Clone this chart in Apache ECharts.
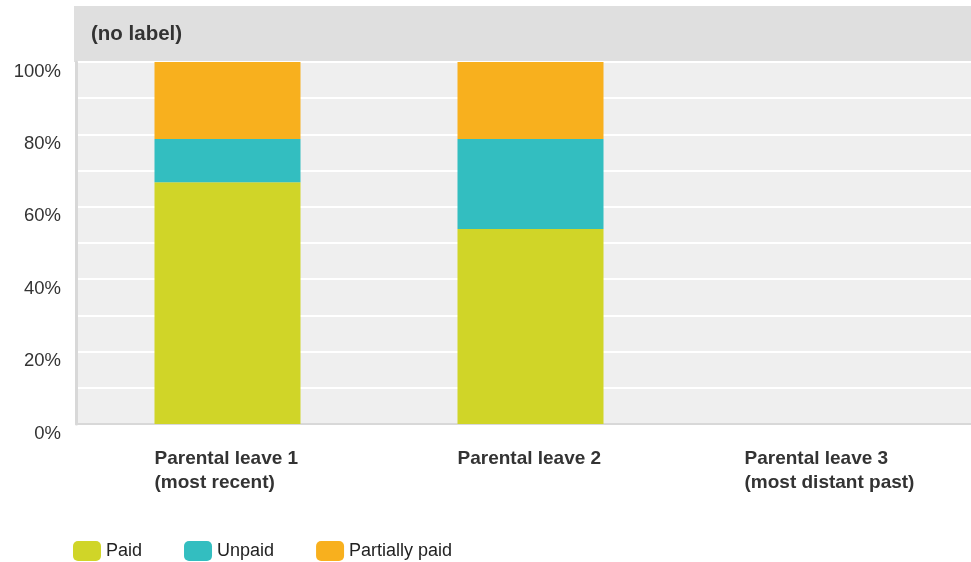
<!DOCTYPE html>
<html>
<head>
<meta charset="utf-8">
<script src="https://cdn.jsdelivr.net/npm/echarts@6/dist/echarts.min.js"></script>
<style>
html,body{margin:0;padding:0;background:#fff;overflow:hidden;width:971px;height:562px;}
#main{width:985px;height:562px;}
</style>
</head>
<body>
<div id="main"></div>
<script>
const categories = ['Parental leave 1\n(most recent)', 'Parental leave 2', 'Parental leave 3\n(most distant past)'];
const paid = [66.8, 53.9, null];
const unpaid = [11.9, 24.8, null];
const partiallyPaid = [21.3, 21.3, null];
const seriesNames = ['Paid', 'Unpaid', 'Partially paid'];
const yTicks = [0, 20, 40, 60, 80, 100];
const headerLabel = '(no label)';

const chart = echarts.init(document.getElementById('main'), null, {renderer: 'canvas'});
const font = '"Liberation Sans", Arial, sans-serif';
const colors = ['#d0d528', '#33bec0', '#f8b01e'];

chart.setOption({
  animation: false,
  color: colors,
  title: {
    text: headerLabel,
    left: 86,
    top: 19,
    textStyle: {fontFamily: font, fontSize: 20.5, fontWeight: 'bold', color: '#333'}
  },
  graphic: [{
    type: 'rect', z: -10, left: 74, top: 6,
    shape: {width: 911, height: 56},
    style: {fill: '#dfdfdf'}
  }],
  legend: {
    left: 68, top: 536,
    itemWidth: 28, itemHeight: 20, itemGap: 42,
    icon: 'roundRect',
    textStyle: {fontFamily: font, fontSize: 18, color: '#222'},
    data: seriesNames
  },
  grid: {
    left: 76, top: 62, height: 362, right: 0,
    show: true, backgroundColor: '#efefef', borderWidth: 0,
    containLabel: false
  },
  xAxis: {
    type: 'category',
    data: categories,
    axisLine: {show: true, lineStyle: {color: '#d8d8d8', width: 2}},
    axisTick: {show: false},
    axisLabel: {
      margin: 23,
      formatter: function (v, i) {
        const st = i === 2 ? 'w3' : 'w1';
        return v.split('\n').map(s => '{' + st + '|' + s + '}').join('\n');
      },
      rich: {
        w1: {width: 146, align: 'left', fontFamily: font, fontSize: 19, fontWeight: 'bold', color: '#333', lineHeight: 24},
        w3: {width: 178, align: 'left', fontFamily: font, fontSize: 19, fontWeight: 'bold', color: '#333', lineHeight: 24}
      }
    }
  },
  yAxis: {
    type: 'value',
    min: 0, max: 100, interval: 20,
    axisLine: {show: true, lineStyle: {color: '#d8d8d8', width: 3}},
    axisTick: {show: false},
    splitLine: {show: true, lineStyle: {color: '#ffffff', width: 2}},
    minorTick: {show: false, splitNumber: 2},
    minorSplitLine: {show: true, lineStyle: {color: '#ffffff', width: 2}},
    axisLabel: {
      margin: 15,
      verticalAlign: 'top',
      fontFamily: font, fontSize: 18.5, color: '#333',
      formatter: function (v) { return yTicks.indexOf(v) >= 0 ? v + '%' : ''; }
    }
  },
  series: [
    {name: seriesNames[0], type: 'bar', stack: 'a', data: paid, barWidth: 146},
    {name: seriesNames[1], type: 'bar', stack: 'a', data: unpaid, barWidth: 146},
    {name: seriesNames[2], type: 'bar', stack: 'a', data: partiallyPaid, barWidth: 146}
  ]
});
</script>
</body>
</html>
